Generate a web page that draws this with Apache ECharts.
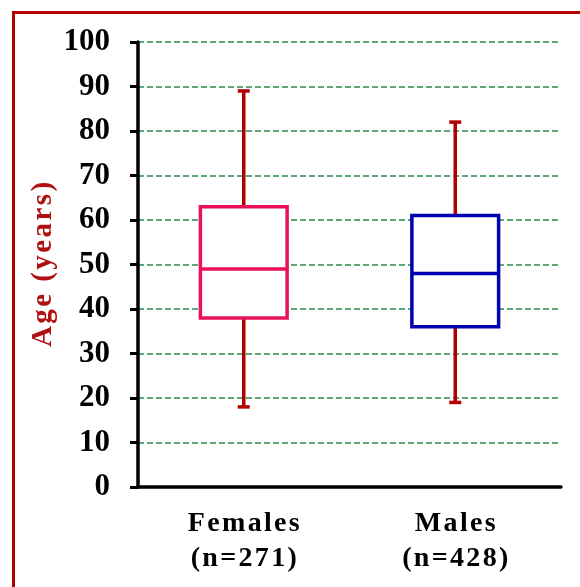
<!DOCTYPE html>
<html>
<head>
<meta charset="utf-8">
<script src="https://cdn.jsdelivr.net/npm/echarts@6/dist/echarts.min.js"></script>
<style>html,body{margin:0;padding:0;background:#fff}#c{width:580px;height:587px}</style>
</head>
<body>
<div id="c"></div>
<script>
var categories = ['Females\n(n=271)', 'Males\n(n=428)'];
var mins = [18, 19];
var q1s = [38, 36];
var medians = [49, 48];
var q3s = [63, 61];
var maxs = [89, 82];
var boxColors = ['#e8115a', '#0000b0'];
var yTicks = [0, 10, 20, 30, 40, 50, 60, 70, 80, 90, 100];
var yName = 'Age (years)';

var data = categories.map(function (c, i) {
  return [i, mins[i], q1s[i], medians[i], q3s[i], maxs[i]];
});

function spaced(s) {
  return s.split('\n').map(function (line) {
    return line.split('').join('\u200A');
  }).join('\n');
}

var chart = echarts.init(document.getElementById('c'), null, {renderer: 'canvas'});
var FONT = '"Liberation Serif", "Times New Roman", serif';
chart.setOption({
  animation: false,
  backgroundColor: '#ffffff',
  graphic: [{
    type: 'rect', left: 11, top: 10, z: -1,
    shape: {x: 0, y: 0, width: 600, height: 600},
    style: {fill: 'none', stroke: '#b00000', lineWidth: 3}
  }],
  grid: {left: 138, right: 19, top: 42, bottom: 100, containLabel: false},
  xAxis: {
    type: 'category',
    data: categories,
    axisLine: {lineStyle: {color: '#000', width: 3.5}},
    axisTick: {alignWithLabel: true, length: 8, lineStyle: {color: '#000', width: 3}},
    axisLabel: {
      margin: 19, color: '#000', fontFamily: FONT, fontWeight: 'bold', fontSize: 28,
      lineHeight: 35, formatter: spaced
    },
    splitLine: {show: false}
  },
  yAxis: {
    type: 'value', min: 0, max: 100, interval: 10,
    name: spaced(yName), nameLocation: 'middle', nameGap: 80, nameRotate: 90,
    nameMoveOverlap: false,
    nameTextStyle: {color: '#b01010', fontFamily: FONT, fontWeight: 'bold', fontSize: 29},
    axisLine: {show: true, lineStyle: {color: '#000', width: 3.5}},
    axisTick: {show: true, length: 8, lineStyle: {color: '#000', width: 3}},
    axisLabel: {
      margin: 28, color: '#000', fontFamily: FONT, fontWeight: 'bold', fontSize: 31,
      formatter: function (v) { return yTicks.indexOf(v) >= 0 ? String(v) : ''; }
    },
    splitLine: {show: true, lineStyle: {color: '#2a8a4a', width: 1.5, type: [6, 3]}}
  },
  series: [{
    type: 'custom',
    data: data,
    encode: {x: 0, y: [1, 2, 3, 4, 5]},
    renderItem: function (params, api) {
      var idx = api.value(0);
      var band = api.size([1, 0])[0];
      var bw = band * 0.41;
      var cw = 12;
      var pMin = api.coord([idx, api.value(1)]);
      var pQ1 = api.coord([idx, api.value(2)]);
      var pMed = api.coord([idx, api.value(3)]);
      var pQ3 = api.coord([idx, api.value(4)]);
      var pMax = api.coord([idx, api.value(5)]);
      var x = pMin[0];
      var wStyle = {stroke: '#b00000', lineWidth: 3.5, fill: 'none'};
      var col = boxColors[idx];
      var bStyle = {stroke: col, lineWidth: 3.5, fill: '#fff'};
      return {
        type: 'group',
        children: [
          {type: 'line', shape: {x1: x, y1: pMax[1], x2: x, y2: pQ3[1]}, style: wStyle},
          {type: 'line', shape: {x1: x, y1: pQ1[1], x2: x, y2: pMin[1]}, style: wStyle},
          {type: 'line', shape: {x1: x - cw / 2, y1: pMax[1], x2: x + cw / 2, y2: pMax[1]}, style: wStyle},
          {type: 'line', shape: {x1: x - cw / 2, y1: pMin[1], x2: x + cw / 2, y2: pMin[1]}, style: wStyle},
          {type: 'rect', shape: {x: x - bw / 2, y: pQ3[1], width: bw, height: pQ1[1] - pQ3[1]}, style: bStyle},
          {type: 'line', shape: {x1: x - bw / 2, y1: pMed[1], x2: x + bw / 2, y2: pMed[1]}, style: {stroke: col, lineWidth: 3.5}}
        ]
      };
    }
  }]
});
</script>
</body>
</html>
